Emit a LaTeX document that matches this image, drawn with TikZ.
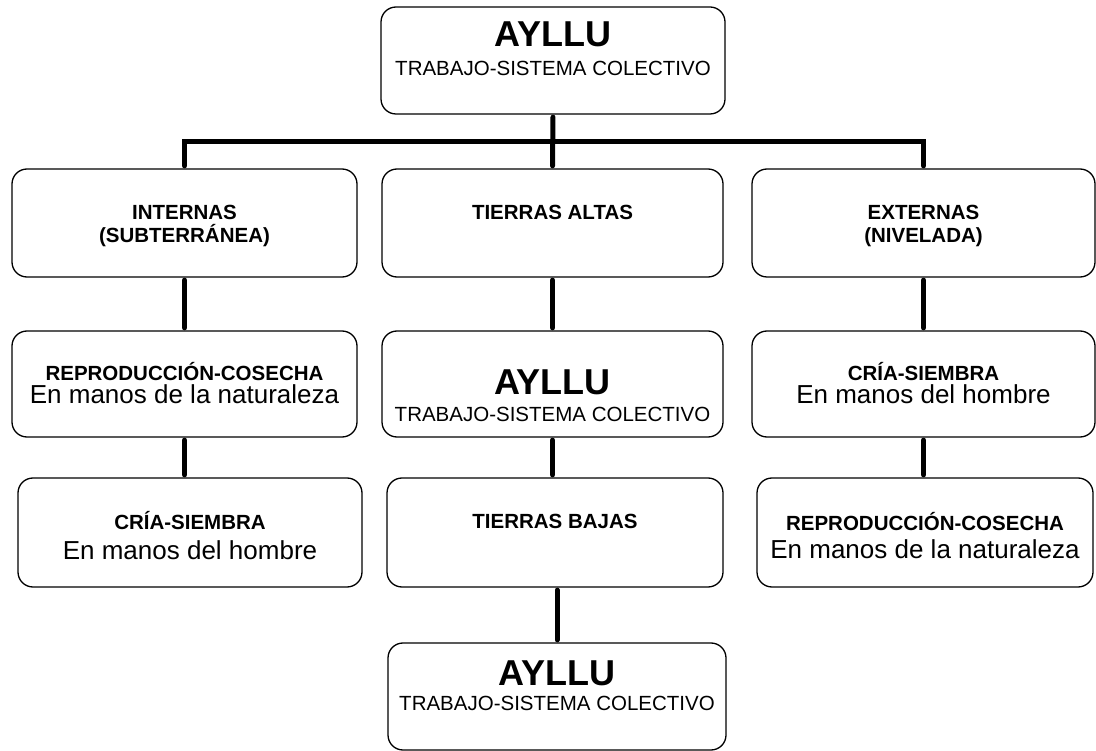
\documentclass[tikz,border=0pt]{standalone}
\usepackage{fontspec}
\setmainfont{Liberation Sans}
\begin{document}
\begin{tikzpicture}[x=1pt,y=-1pt,
        caja/.style = {draw,rounded corners=15pt,line width=1.3pt},
        enlace/.style = {line width=5pt,line cap=round,shorten <=2.5pt,shorten >=2.5pt},
        grande/.style = {anchor=base,font=\fontsize{36}{40}\selectfont\bfseries},
        sub/.style = {anchor=base,font=\fontsize{20.5}{24}\selectfont},
        titulo/.style = {anchor=base,font=\fontsize{20.5}{24}\selectfont\bfseries},
        texto/.style = {anchor=base,font=\fontsize{26}{30}\selectfont}]
    \useasboundingbox (0,0) rectangle (1096,751);
    % cajas
    \foreach \n/\x/\y/\w/\h in {top/553/60.5/344/107, l1/184.5/223/345/108, m1/552.5/223/341/108, r1/923.5/223/343/108,
        l2/184.5/384/345/106, m2/552.5/384/341/106, r2/923.5/384/343/106,
        l3/190/532.5/344/109, m3/555/532.5/336/109, r3/925/532.5/336/109, bot/557/696.5/338/107}
        \node[caja,minimum width=\w pt,minimum height=\h pt] (\n) at (\x,\y) {};
    % textos
    \node[grande] (top-a) at (553,47) {AYLLU};
    \node[sub] (top-b) at (553,76) {TRABAJO-SISTEMA COLECTIVO};
    \node[titulo] (l1-a) at (184.5,219.5) {INTERNAS};
    \node[titulo] (l1-b) at (184.5,242.5) {(SUBTERRÁNEA)};
    \node[titulo] (m1-a) at (552.5,219.5) {TIERRAS ALTAS};
    \node[titulo] (r1-a) at (923.5,219.5) {EXTERNAS};
    \node[titulo] (r1-b) at (923.5,242.5) {(NIVELADA)};
    \node[titulo] (l2-a) at (184.5,381) {REPRODUCCIÓN-COSECHA};
    \node[texto] (l2-b) at (184.5,404) {En manos de la naturaleza};
    \node[grande] (m2-a) at (552.5,395) {AYLLU};
    \node[sub] (m2-b) at (552.5,421) {TRABAJO-SISTEMA COLECTIVO};
    \node[titulo] (r2-a) at (923.5,381) {CRÍA-SIEMBRA};
    \node[texto] (r2-b) at (923.5,404) {En manos del hombre};
    \node[titulo] (l3-a) at (190,529.5) {CRÍA-SIEMBRA};
    \node[texto] (l3-b) at (190,559) {En manos del hombre};
    \node[titulo] (m3-a) at (555,528.5) {TIERRAS BAJAS};
    \node[titulo] (r3-a) at (925,530) {REPRODUCCIÓN-COSECHA};
    \node[texto] (r3-b) at (925,558) {En manos de la naturaleza};
    \node[grande] (bot-a) at (557,685) {AYLLU};
    \node[sub] (bot-b) at (557,710) {TRABAJO-SISTEMA COLECTIVO};
    % enlaces
    \coordinate (barra) at (553,142);
    \draw[enlace] (top.south) -- (m1.north);
    \draw[enlace] (l1.north) |- (barra) -| (r1.north);
    \draw[enlace] (l1.south) -- (l2.north);
    \draw[enlace] (l2.south) -- (l2.south |- l3.north);
    \draw[enlace] (m1.south) -- (m2.north);
    \draw[enlace] (m2.south) -- (m2.south |- m3.north);
    \draw[enlace] (bot.north |- m3.south) -- (bot.north);
    \draw[enlace] (r1.south) -- (r2.north);
    \draw[enlace] (r2.south) -- (r2.south |- r3.north);
\end{tikzpicture}
\end{document}
